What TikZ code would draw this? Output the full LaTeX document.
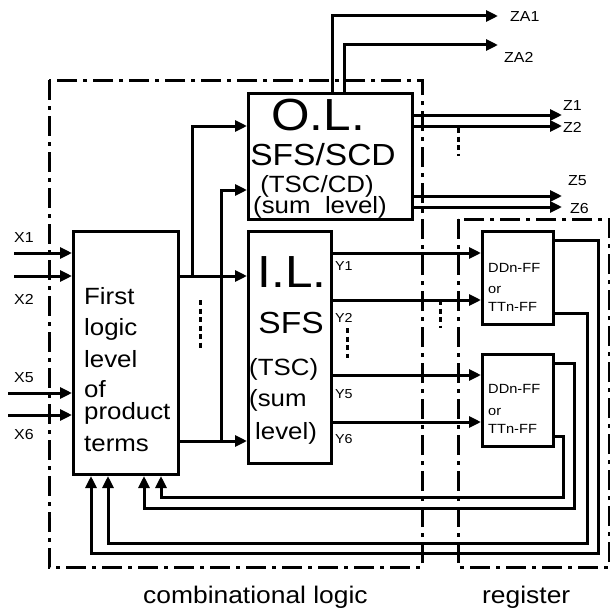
\documentclass[tikz,border=0pt]{standalone}
\usepackage{fontspec}
\setmainfont{Liberation Sans}[FakeStretch=1.1]
\usetikzlibrary{arrows.meta,calc}
\tikzset{
  >={Triangle[length=12pt,width=11pt]},
  every node/.style={inner sep=0pt},
  block/.style={draw,line width=3pt,anchor=north west},
  arrow/.style={->,line width=3pt},
  frame/.style={line width=3pt,dash pattern=on 20pt off 6pt on 4pt off 6pt},
  dots/.style={line width=3pt,dash pattern=on 5pt off 3.5pt},
  sig/.style={font=\fontsize{14.5}{16}\selectfont,anchor=base west},
  ysig/.style={font=\fontsize{13}{15}\selectfont,anchor=base west},
  fftext/.style={font=\fontsize{13.3}{15}\selectfont,anchor=base west},
  body/.style={font=\fontsize{23.5}{27}\selectfont,anchor=base west},
  bodyc/.style={font=\fontsize{23.5}{27}\selectfont,anchor=base},
  big/.style={font=\fontsize{45}{50}\selectfont,anchor=base},
  mid/.style={font=\fontsize{30.5}{34}\selectfont,anchor=base},
  caption/.style={font=\fontsize{24}{28}\selectfont,anchor=base west},
}
\begin{document}
\begin{tikzpicture}[x=1pt,y=-1pt]
\useasboundingbox (0,0) rectangle (610,610);

% dash-dot frames
\draw[frame] (49,80) rectangle (422,567);
\draw[frame] (458,219) rectangle (609,567);

% blocks
\node[block,minimum width=105pt,minimum height=243pt] (plt) at (72,230) {};
\node[block,minimum width=164pt,minimum height=126pt] (ol) at (247,92) {};
\node[block,minimum width=83pt,minimum height=232pt] (il) at (247,230) {};
\node[block,minimum width=71pt,minimum height=93pt] (ff1) at (481,230) {};
\node[block,minimum width=71pt,minimum height=92pt] (ff2) at (481,353) {};

% block texts
\node[body] (pt1) at (84,304) {First};
\node[body] (pt2) at (84,335) {logic};
\node[body] (pt3) at (84,367) {level};
\node[body] (pt4) at (84,397) {of};
\node[body] (pt5) at (84,419) {product};
\node[body] (pt6) at (84,451) {terms};

\node[big] (ol1) at (318,130) {O.L.};
\node[mid] (ol2) at (323,165) {SFS/SCD};
\node[bodyc] (ol3) at (317,192) {(TSC/CD)};
\node[bodyc] (ol4) at (320,213) {(sum\ \ level)};

\node[big] (il1) at (292,287) {I.L.};
\node[mid] (il2) at (291,333) {SFS};
\node[body] (il3) at (249,375) {(TSC)};
\node[body] (il4) at (249,406) {(sum};
\node[body] (il5) at (255,439) {level)};

\node[fftext] (fa1) at (488,272) {DDn-FF};
\node[fftext] (fa2) at (488,293) {or};
\node[fftext] (fa3) at (488,311) {TTn-FF};
\node[fftext] (fb1) at (488,393) {DDn-FF};
\node[fftext] (fb2) at (488,415) {or};
\node[fftext] (fb3) at (488,433) {TTn-FF};

% inputs
\coordinate (in1) at (14,253);
\coordinate (in2) at (14,276);
\coordinate (in5) at (8,393);
\coordinate (in6) at (8,415);
\draw[arrow] (in1) -- (in1 -| plt.west);
\draw[arrow] (in2) -- (in2 -| plt.west);
\draw[arrow] (in5) -- (in5 -| plt.west);
\draw[arrow] (in6) -- (in6 -| plt.west);
\node[sig] (x1) at (14,242) {X1};
\node[sig] (x2) at (14,304) {X2};
\node[sig] (x5) at (14,382) {X5};
\node[sig] (x6) at (14,439) {X6};

% product terms to both levels
\draw[arrow] ([yshift=-46pt]plt.north east) -- ([yshift=-46pt]il.north west);
\draw[arrow] ([yshift=35pt]plt.south east) -- ([yshift=24pt]il.south west);
\draw[arrow] ($(plt.north east)+(12,46)$) |- ([yshift=-34pt]ol.north west);
\draw[arrow] ($(plt.south east)+(41,-35)$) |- ([yshift=-98pt]ol.north west);
\draw[dots] (200,300) -- (200,350);

% outer level outputs
\coordinate (za1) at (498,16);
\coordinate (za2) at (498,45);
\draw[arrow] ([xshift=-82pt]ol.north east) |- (za1);
\draw[arrow] ([xshift=-70pt]ol.north east) |- (za2);
\node[sig] (lza1) at (510,22) {ZA1};
\node[sig] (lza2) at (504,63) {ZA2};

\coordinate (z1) at (562,115);
\coordinate (z2) at (562,126);
\coordinate (z5) at (562,196);
\coordinate (z6) at (562,207);
\draw[arrow] (ol.east |- z1) -- (z1);
\draw[arrow] (ol.east |- z2) -- (z2);
\draw[arrow] (ol.east |- z5) -- (z5);
\draw[arrow] (ol.east |- z6) -- (z6);
\draw[dots] (458,128) -- (458,156);
\node[sig] (lz1) at (563,110) {Z1};
\node[sig] (lz2) at (563,132) {Z2};
\node[sig] (lz5) at (568,185) {Z5};
\node[sig] (lz6) at (570,213) {Z6};

% inner level to register
\coordinate (d1) at ([yshift=-23pt]ff1.north west);
\coordinate (d2) at ([yshift=-70pt]ff1.north west);
\coordinate (d5) at ([yshift=-22pt]ff2.north west);
\coordinate (d6) at ([yshift=-69pt]ff2.north west);
\draw[arrow] (il.east |- d1) -- (d1);
\draw[arrow] (il.east |- d2) -- (d2);
\draw[arrow] (il.east |- d5) -- (d5);
\draw[arrow] (il.east |- d6) -- (d6);
\draw[dots] (347,328) -- (347,358);
\draw[dots] (440,300) -- (440,328);
\node[ysig] (y1) at (335,270) {Y1};
\node[ysig] (y2) at (335,322) {Y2};
\node[ysig] (y5) at (335,398) {Y5};
\node[ysig] (y6) at (335,443) {Y6};

% feedback
\coordinate (r1) at (598,553);
\coordinate (r2) at (587,543);
\coordinate (r5) at (574,508);
\coordinate (r6) at (563,497);
\draw[arrow] ([yshift=-10pt]ff1.north east) -| (r1) -| ([xshift=19pt]plt.south west);
\draw[arrow] ([yshift=13pt]ff1.south east) -| (r2) -| ([xshift=36pt]plt.south west);
\draw[arrow] ([yshift=-10pt]ff2.north east) -| (r5) -| ([xshift=72pt]plt.south west);
\draw[arrow] ([yshift=12pt]ff2.south east) -| (r6) -| ([xshift=89pt]plt.south west);

\node[caption] (cl) at (143,603) {combinational logic};
\node[caption] (rg) at (482,603) {register};

\end{tikzpicture}
\end{document}
